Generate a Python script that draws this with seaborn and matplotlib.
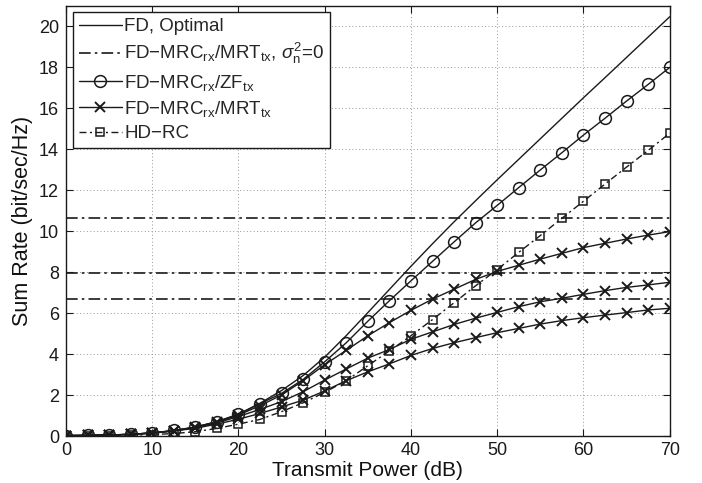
import numpy as np
import pandas as pd
import matplotlib
matplotlib.use("Agg")
import matplotlib.pyplot as plt
import seaborn as sns

# ---------------- data ----------------
tx_power = [0, 2.5, 5, 7.5, 10, 12.5, 15, 17.5, 20, 22.5, 25, 27.5, 30, 32.5, 35,
            37.5, 40, 42.5, 45, 47.5, 50, 52.5, 55, 57.5, 60, 62.5, 65, 67.5, 70]

fd_optimal = [0.02, 0.03, 0.05, 0.08, 0.15, 0.26, 0.43, 0.70, 1.07, 1.60, 2.22, 2.95, 3.85,
              4.90, 6.02, 7.15, 8.28, 9.38, 10.45, 11.48, 12.50, 13.50, 14.50, 15.50,
              16.50, 17.48, 18.47, 19.46, 20.45]

fd_zf = [0.02, 0.03, 0.05, 0.08, 0.15, 0.27, 0.44, 0.70, 1.05, 1.58, 2.08, 2.76, 3.62,
         4.55, 5.60, 6.60, 7.57, 8.52, 9.47, 10.40, 11.25, 12.12, 12.98, 13.82, 14.68,
         15.50, 16.34, 17.15, 17.98]

fd_mrt_a = [0.02, 0.03, 0.05, 0.08, 0.15, 0.26, 0.43, 0.68, 1.02, 1.48, 2.00, 2.70, 3.48,
            4.18, 4.89, 5.53, 6.13, 6.68, 7.16, 7.64, 8.03, 8.33, 8.63, 8.91, 9.19,
            9.40, 9.61, 9.80, 9.97]

fd_mrt_b = [0.02, 0.03, 0.05, 0.08, 0.15, 0.25, 0.41, 0.64, 0.95, 1.30, 1.68, 2.16, 2.73,
            3.27, 3.80, 4.22, 4.72, 5.08, 5.44, 5.75, 6.03, 6.31, 6.55, 6.72, 6.91,
            7.09, 7.25, 7.37, 7.50]

fd_mrt_c = [0.02, 0.03, 0.05, 0.08, 0.14, 0.24, 0.38, 0.58, 0.82, 1.10, 1.42, 1.75, 2.20,
            2.70, 3.13, 3.52, 3.93, 4.27, 4.55, 4.80, 5.04, 5.25, 5.46, 5.63, 5.77,
            5.90, 6.02, 6.15, 6.23]

hd_rc = [0.01, 0.01, 0.02, 0.04, 0.07, 0.12, 0.21, 0.37, 0.58, 0.81, 1.19, 1.62, 2.13,
         2.70, 3.43, 4.15, 4.89, 5.68, 6.50, 7.33, 8.12, 8.96, 9.78, 10.62, 11.45,
         12.29, 13.12, 13.93, 14.77]

sigma0_x = [0, 70]
sigma0_levels = [10.62, 7.97, 6.66]

x_ticks = [0, 10, 20, 30, 40, 50, 60, 70]
y_ticks = [0, 2, 4, 6, 8, 10, 12, 14, 16, 18, 20]

labels = ["FD, Optimal",
          "FD\u2212MRC$_{\\mathrm{rx}}$/MRT$_{\\mathrm{tx}}$, $\\sigma_{\\mathrm{n}}^{2}$=0",
          "FD\u2212MRC$_{\\mathrm{rx}}$/ZF$_{\\mathrm{tx}}$",
          "FD\u2212MRC$_{\\mathrm{rx}}$/MRT$_{\\mathrm{tx}}$",
          "HD\u2212RC"]

# ---------------- style ----------------
sns.set_theme(style="ticks")
plt.rcParams["font.family"] = ["Liberation Sans", "DejaVu Sans"]
plt.rcParams["mathtext.fontset"] = "custom"
plt.rcParams["mathtext.rm"] = "Liberation Sans"
plt.rcParams["mathtext.it"] = "Liberation Sans:italic"
plt.rcParams["mathtext.sf"] = "Liberation Sans"

fig = plt.figure(figsize=(7.02, 4.83), dpi=100)
ax = fig.add_axes([0.094, 0.0973, 0.86, 0.8913])

dashdot = (0, (7, 2.5, 1.5, 2.5))
lw = 1.0

# FD optimal
sns.lineplot(x=tx_power, y=fd_optimal, ax=ax, color="k", lw=lw,
             label=labels[0], legend=False)

# sigma_n^2 = 0 horizontal lines
for i, lev in enumerate(sigma0_levels):
    sns.lineplot(x=sigma0_x, y=[lev, lev], ax=ax, color="k", lw=1.2,
                 linestyle=dashdot, label=labels[1] if i == 0 else None, legend=False)

# ZF circles
sns.lineplot(x=tx_power, y=fd_zf, ax=ax, color="k", lw=lw, marker="o",
             markersize=8.5, markerfacecolor="none", markeredgecolor="k",
             markeredgewidth=1.1, label=labels[2], legend=False)

# MRT x curves
for i, ys in enumerate([fd_mrt_a, fd_mrt_b, fd_mrt_c]):
    sns.lineplot(x=tx_power, y=ys, ax=ax, color="k", lw=lw, marker="x",
                 markersize=6.5, markeredgecolor="k", markeredgewidth=1.4,
                 label=labels[3] if i == 0 else None, legend=False)

# HD-RC squares
sns.lineplot(x=tx_power, y=hd_rc, ax=ax, color="k", lw=lw, marker="s",
             linestyle=(0, (5, 2.5, 1.5, 2.5)),
             markersize=5.5, markerfacecolor="none", markeredgecolor="k",
             markeredgewidth=1.1, label=labels[4], legend=False)

# ---------------- axes ----------------
ax.set_xlim(0, 70)
ax.set_ylim(0, 21)
ax.set_xticks(x_ticks)
ax.set_yticks(y_ticks)
ax.tick_params(direction="in", length=5, width=0.8, top=True, right=True,
               labelsize=13, colors="k")
ax.tick_params(axis="y", pad=5)
ax.tick_params(axis="x", pad=4)
for s in ax.spines.values():
    s.set_color("k")
    s.set_linewidth(1.0)
ax.grid(True, linestyle=(0, (1, 2.5)), color="#999999", linewidth=0.7)
ax.set_axisbelow(True)
ax.set_xlabel("Transmit Power (dB)", fontsize=15, color="#111111", labelpad=2)
ax.set_ylabel("Sum Rate (bit/sec/Hz)", fontsize=15.5, color="#111111", labelpad=4)
ax.set_facecolor("white")
fig.patch.set_facecolor("white")

handles, labs = ax.get_legend_handles_labels()
order = [labels.index(l) for l in labs]
pairs = sorted(zip(order, handles, labs))
leg = ax.legend([p[1] for p in pairs], [p[2] for p in pairs],
                loc="upper left", bbox_to_anchor=(0.0115, 0.984),
                fontsize=13.5, frameon=True, fancybox=False, framealpha=1,
                edgecolor="k", handlelength=2.3, handletextpad=0.15,
                borderpad=0.3, labelspacing=0.33, borderaxespad=0.0)
leg.get_frame().set_linewidth(1.0)

fig.savefig("out.png", dpi=100, facecolor="white")
